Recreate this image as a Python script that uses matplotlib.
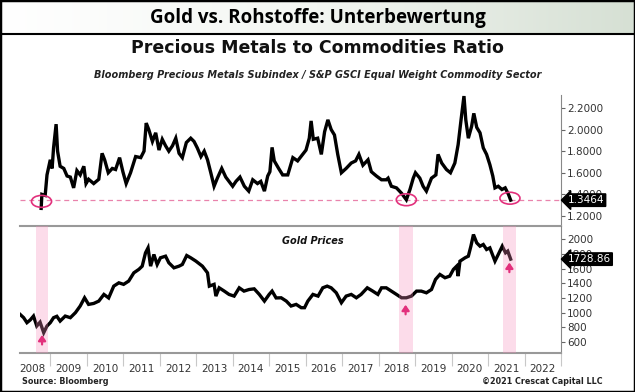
import numpy as np
import matplotlib
matplotlib.use("Agg")
import matplotlib.pyplot as plt
from matplotlib.patches import Ellipse, Rectangle
from matplotlib.lines import Line2D
from matplotlib.colors import LinearSegmentedColormap
from matplotlib.ticker import FixedLocator, FuncFormatter, NullFormatter

# ---------------- data ----------------
ratio_dates = [2008.75, 2008.77, 2008.86, 2008.91, 2009.00, 2009.05, 2009.09, 2009.16, 2009.20, 2009.27,
               2009.37, 2009.46, 2009.55, 2009.64, 2009.73, 2009.82, 2009.92, 2009.98, 2010.05, 2010.19,
               2010.33, 2010.42, 2010.49, 2010.59, 2010.70, 2010.79, 2010.90, 2010.99, 2011.08, 2011.20,
               2011.34, 2011.48, 2011.57, 2011.63, 2011.70, 2011.80, 2011.89, 2011.98, 2012.07, 2012.16,
               2012.25, 2012.35, 2012.44, 2012.53, 2012.62, 2012.73, 2012.85, 2012.94, 2013.03, 2013.13,
               2013.22, 2013.31, 2013.40, 2013.49, 2013.58, 2013.70, 2013.81, 2013.90, 2014.00, 2014.09,
               2014.20, 2014.32, 2014.44, 2014.55, 2014.68, 2014.77, 2014.87, 2014.96, 2015.02, 2015.08,
               2015.14, 2015.26, 2015.37, 2015.51, 2015.65, 2015.78, 2015.92, 2016.01, 2016.10, 2016.15,
               2016.21, 2016.33, 2016.43, 2016.52, 2016.61, 2016.70, 2016.79, 2016.88, 2016.98, 2017.11,
               2017.25, 2017.37, 2017.46, 2017.57, 2017.71, 2017.80, 2017.94, 2018.08, 2018.21, 2018.26,
               2018.35, 2018.49, 2018.63, 2018.76, 2018.86, 2018.95, 2019.01, 2019.13, 2019.22, 2019.31,
               2019.45, 2019.57, 2019.63, 2019.73, 2019.86, 2019.97, 2020.09, 2020.18, 2020.26, 2020.34,
               2020.39, 2020.46, 2020.55, 2020.61, 2020.69, 2020.78, 2020.87, 2020.96, 2021.05, 2021.13,
               2021.19, 2021.28, 2021.38, 2021.47, 2021.56, 2021.62]
ratio_values = [1.27, 1.40, 1.39, 1.58, 1.72, 1.64, 1.83, 2.05, 1.80, 1.66,
                1.64, 1.57, 1.56, 1.46, 1.62, 1.58, 1.66, 1.50, 1.54, 1.50,
                1.54, 1.78, 1.72, 1.60, 1.64, 1.63, 1.74, 1.61, 1.50, 1.60,
                1.75, 1.74, 1.80, 2.06, 2.00, 1.89, 1.97, 1.81, 1.91, 1.85,
                1.80, 1.85, 1.92, 1.78, 1.74, 1.88, 1.92, 1.89, 1.83, 1.75,
                1.80, 1.72, 1.60, 1.475, 1.55, 1.64, 1.56, 1.52, 1.475, 1.52,
                1.56, 1.475, 1.43, 1.535, 1.50, 1.52, 1.43, 1.57, 1.61, 1.835,
                1.71, 1.64, 1.58, 1.58, 1.74, 1.71, 1.77, 1.81, 1.92, 2.08,
                1.91, 1.92, 1.77, 1.98, 2.09, 2.00, 1.95, 1.77, 1.60, 1.64,
                1.69, 1.71, 1.77, 1.67, 1.72, 1.61, 1.57, 1.535, 1.535, 1.55,
                1.475, 1.46, 1.41, 1.35, 1.445, 1.55, 1.60, 1.55, 1.475, 1.43,
                1.55, 1.58, 1.77, 1.69, 1.63, 1.60, 1.69, 1.86, 2.09, 2.31,
                2.09, 1.92, 2.03, 2.15, 2.02, 1.97, 1.83, 1.77, 1.675, 1.57,
                1.46, 1.475, 1.445, 1.46, 1.40, 1.3464]

gold_dates = [2008.17, 2008.27, 2008.36, 2008.45, 2008.54, 2008.63, 2008.72, 2008.82, 2008.91, 2009.00,
              2009.09, 2009.18, 2009.27, 2009.41, 2009.55, 2009.69, 2009.82, 2009.94, 2010.05, 2010.19,
              2010.33, 2010.47, 2010.60, 2010.74, 2010.88, 2011.01, 2011.15, 2011.29, 2011.43, 2011.52,
              2011.61, 2011.68, 2011.75, 2011.84, 2011.93, 2012.02, 2012.16, 2012.25, 2012.39, 2012.53,
              2012.62, 2012.74, 2012.85, 2012.99, 2013.17, 2013.31, 2013.36, 2013.49, 2013.54, 2013.63,
              2013.77, 2013.90, 2014.04, 2014.18, 2014.31, 2014.45, 2014.59, 2014.73, 2014.87, 2015.00,
              2015.08, 2015.19, 2015.33, 2015.47, 2015.60, 2015.74, 2015.88, 2015.97, 2016.06, 2016.20,
              2016.34, 2016.47, 2016.59, 2016.70, 2016.84, 2016.98, 2017.11, 2017.25, 2017.39, 2017.52,
              2017.69, 2017.84, 2017.98, 2018.08, 2018.21, 2018.35, 2018.49, 2018.63, 2018.76, 2018.90,
              2019.04, 2019.17, 2019.31, 2019.45, 2019.56, 2019.68, 2019.82, 2019.95, 2020.05, 2020.14,
              2020.18, 2020.23, 2020.37, 2020.46, 2020.53, 2020.60, 2020.69, 2020.78, 2020.87, 2020.96,
              2021.05, 2021.19, 2021.28, 2021.39, 2021.48, 2021.54, 2021.62]
gold_values = [977, 931, 863, 900, 953, 818, 870, 727, 818, 863,
               931, 950, 885, 953, 931, 1000, 1090, 1202, 1112, 1125,
               1157, 1248, 1200, 1361, 1406, 1385, 1430, 1542, 1590, 1633,
               1814, 1882, 1633, 1792, 1656, 1747, 1769, 1679, 1610, 1633,
               1656, 1778, 1747, 1702, 1633, 1542, 1361, 1385, 1225, 1338,
               1293, 1248, 1225, 1338, 1293, 1315, 1324, 1248, 1157, 1248,
               1293, 1200, 1202, 1157, 1090, 1112, 1067, 1067, 1157, 1248,
               1225, 1338, 1361, 1338, 1270, 1135, 1225, 1248, 1202, 1248,
               1338, 1293, 1248, 1338, 1338, 1293, 1248, 1202, 1202, 1225,
               1293, 1293, 1270, 1315, 1452, 1520, 1475, 1497, 1588, 1633,
               1497, 1701, 1747, 1769, 1905, 2064, 1950, 1905, 1928, 1860,
               1882, 1701, 1792, 1905, 1815, 1838, 1728.86]

low_dates = [2008.76, 2018.76, 2021.60]           # circled ratio lows
band_starts = [2008.60, 2018.55, 2021.40]         # shaded gold periods
band_ends = [2008.95, 2018.93, 2021.77]
year_labels = list(range(2008, 2023))
ratio_ticks = [1.2, 1.4, 1.6, 1.8, 2.0, 2.2]
gold_ticks = [600, 800, 1000, 1200, 1400, 1600, 1800, 2000]

# ---------------- figure ----------------
W, H = 635, 392
fig = plt.figure(figsize=(W / 100, H / 100), dpi=100)
fig.patch.set_facecolor("white")

# header band with gradient
hax = fig.add_axes([0, 1 - 34 / H, 1, 34 / H])
grad = np.linspace(0, 1, 256)[None, :]
cmap = LinearSegmentedColormap.from_list("hdr", ["#ffffff", "#f3f6f2", "#d6e0d4"])
hax.imshow(grad, aspect="auto", cmap=cmap, extent=[0, 1, 0, 1])
hax.set_axis_off()
hax.text(0.5, 0.47, "Gold vs. Rohstoffe: Unterbewertung", ha="center", va="center",
         fontsize=13.5, fontweight="bold", family=["Open Sans", "DejaVu Sans"], color="black")
fig.add_artist(Line2D([0, 1], [1 - 34 / H] * 2, color="black", lw=1.5))

fig.text(0.5, 1 - 48 / H, "Precious Metals to Commodities Ratio", ha="center", va="center",
         fontsize=12.5, fontweight="bold", color="#111111")
fig.text(0.5, 1 - 75 / H,
         "Bloomberg Precious Metals Subindex / S&P GSCI Equal Weight Commodity Sector",
         ha="center", va="center", fontsize=7, fontweight="bold", style="italic", color="#222222")

fig.text(22 / W, 1 - 381 / H, "Source: Bloomberg", ha="left", va="center",
         fontsize=5.8, fontweight="bold", color="#222222")
fig.text(603 / W, 1 - 381 / H, "\u00a92021 Crescat Capital LLC", ha="right", va="center",
         fontsize=5.8, fontweight="bold", color="#222222")

xlo, xhi = 2008.17, 2023.0
pink = "#e2307c"
tick_color = "#333333"


def style_axes(ax):
    ax.set_facecolor("none")
    ax.spines["left"].set_visible(False)
    ax.spines["top"].set_visible(False)
    ax.spines["right"].set_color("#888888")
    ax.spines["right"].set_linewidth(0.8)
    ax.spines["bottom"].set_color("#999999")
    ax.spines["bottom"].set_linewidth(1.5)
    ax.yaxis.tick_right()
    ax.tick_params(axis="y", which="major", direction="out", length=3, width=0.8,
                   colors="#666666", labelcolor=tick_color, labelsize=7.5, pad=1.5)
    ax.set_xlim(xlo, xhi)


# ---------------- upper: ratio ----------------
ax1 = fig.add_axes([20 / W, 1 - 226 / H, 541 / W, 131 / H])
style_axes(ax1)
ax1.set_ylim(1.107, 2.32)
ax1.plot(ratio_dates, ratio_values, color="black", lw=2.4, solid_joinstyle="miter", zorder=3)
last_ratio = ratio_values[-1]
ax1.axhline(last_ratio, color="#e983ac", lw=0.9, ls=(0, (4, 3)), zorder=2)
ax1.yaxis.set_major_locator(FixedLocator(ratio_ticks))
ax1.yaxis.set_major_formatter(FuncFormatter(lambda v, p: f"{v:.4f}"))
ax1.set_xticks([])
for d in low_dates:
    yv = np.interp(d, ratio_dates, ratio_values)
    ax1.add_patch(Ellipse((d, yv), width=0.55, height=0.11, fill=False, ec=pink, lw=1.2, zorder=4))
ax1.annotate(f"{last_ratio:.4f}", xy=(1.0, last_ratio), xycoords=("axes fraction", "data"),
             xytext=(5, 0), textcoords="offset points", ha="left", va="center",
             color="white", fontsize=7.5, annotation_clip=False, zorder=6,
             bbox=dict(boxstyle="larrow,pad=0.12", fc="black", ec="black"))

# ---------------- lower: gold ----------------
ax2 = fig.add_axes([20 / W, 1 - 353 / H, 541 / W, 127 / H])
style_axes(ax2)
ax2.set_ylim(450, 2180)
ax2.plot(gold_dates, gold_values, color="black", lw=2.4, solid_joinstyle="miter", zorder=2)
for s, e in zip(band_starts, band_ends):
    ax2.axvspan(s, e, color="#f88ebc", alpha=0.3, lw=0, zorder=3)
    c = (s + e) / 2
    gv = np.interp(c, gold_dates, gold_values)
    ax2.annotate("", xy=(c, gv - 95), xytext=(c, gv - 225),
                 arrowprops=dict(arrowstyle="-|>,head_width=0.22,head_length=0.32",
                                 color=pink, lw=1.6, shrinkA=0, shrinkB=0,
                                 mutation_scale=10), zorder=5)
ax2.yaxis.set_major_locator(FixedLocator(gold_ticks))
ax2.yaxis.set_major_formatter(FuncFormatter(lambda v, p: f"{int(v)}"))
ax2.text(0.484, 0.88, "Gold Prices", transform=ax2.transAxes, ha="left", va="center",
         fontsize=7, fontweight="bold", style="italic", color="#111111")
last_gold = gold_values[-1]
ax2.annotate(f"{last_gold:.2f}", xy=(1.0, last_gold), xycoords=("axes fraction", "data"),
             xytext=(5, 0), textcoords="offset points", ha="left", va="center",
             color="white", fontsize=7.5, annotation_clip=False, zorder=6,
             bbox=dict(boxstyle="larrow,pad=0.12", fc="black", ec="black"))

# x axis: tick lines at year boundaries, labels centred in each year
ax2.xaxis.set_major_locator(FixedLocator([y + 1 for y in year_labels]))
ax2.xaxis.set_major_formatter(NullFormatter())
ax2.xaxis.set_minor_locator(FixedLocator([y + 0.5 for y in year_labels]))
ax2.xaxis.set_minor_formatter(FuncFormatter(lambda v, p: f"{int(v)}"))
ax2.tick_params(axis="x", which="major", direction="out", length=9, width=0.8, colors="#c8c8c8")
ax2.tick_params(axis="x", which="minor", length=0, labelsize=7.5, labelcolor=tick_color, pad=8)

# outer border
fig.add_artist(Rectangle((0, 0), 1, 1, transform=fig.transFigure, fill=False, ec="black", lw=2.5))

fig.savefig("out.png", dpi=100)
